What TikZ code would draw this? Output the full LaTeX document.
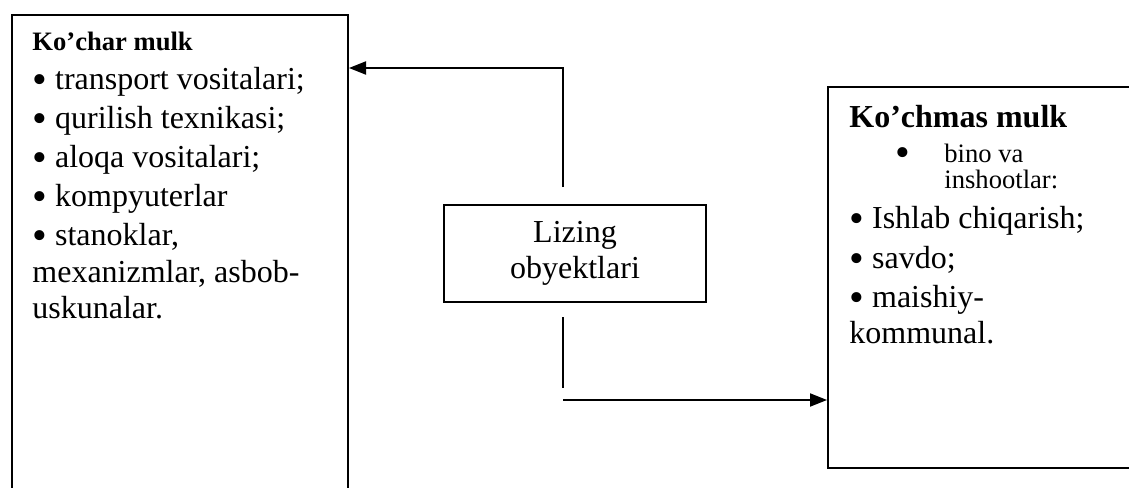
\documentclass[tikz,border=0pt]{standalone}
\usepackage{fontspec}
\setmainfont{Liberation Serif}
\usepackage{tikz}
\usetikzlibrary{arrows.meta}
\newcommand{\bul}{\raisebox{-2.4pt}{\fontsize{21}{21}\selectfont\textbullet}}
\tikzset{
	box/.style={draw,line width=1pt,inner sep=0pt,anchor=north west},
	txt/.style={anchor=base west,inner sep=0pt,font=\fontsize{16}{19}\selectfont},
	stxt/.style={anchor=base west,inner sep=0pt,font=\fontsize{13.3}{16}\selectfont},
	head/.style 2 args={anchor=base west,inner sep=0pt,font=\fontsize{#1}{#2}\selectfont\bfseries},
	arr/.style={-{Triangle[length=8.5pt,width=6.5pt]},line width=1pt}
}
\begin{document}
\begin{tikzpicture}[x=0.5pt,y=-0.5pt]
	\useasboundingbox (0,0) rectangle (1129,487);

	% boxes
	\node [box,minimum width=168pt,minimum height=250pt] (kochar) at (11,14) {};
	\node [box,minimum width=160pt,minimum height=190.5pt] (kochmas) at (827,86) {};
	\node [box,minimum width=131pt,minimum height=48.5pt,align=center,
		font=\fontsize{16}{18}\selectfont] (lizing) at (443,204) {Lizing\\obyektlari};

	% left box text
	\node [head={13.3}{16}] (kocharhead) at (32,50) {Ko’char mulk};
	\foreach \y/\t [count=\i] in {89/{\bul\ transport vositalari;},
			128/{\bul\ qurilish texnikasi;}, 167/{\bul\ aloqa vositalari;},
			206/{\bul\ kompyuterlar}, 245/{\bul\ stanoklar,},
			282/{mexanizmlar, asbob-}, 318/{uskunalar.}}
		\node [txt] (kochar\i) at (32,\y) {\t};

	% right box text
	\node [head={16}{19}] (kochmashead) at (849,127) {Ko’chmas mulk};
	\node [txt] (binodot) at (895,162) {\bul};
	\node [stxt] (bino1) at (944,162) {bino va};
	\node [stxt] (bino2) at (944,188) {inshootlar:};
	\foreach \y/\t [count=\i] in {228/{\bul\ Ishlab chiqarish;}, 268/{\bul\ savdo;},
			307/{\bul\ maishiy-}, 343/{kommunal.}}
		\node [txt] (kochmas\i) at (849,\y) {\t};

	% connectors
	\coordinate (upstart) at (563,187);
	\coordinate (upturn) at (563,68);
	\coordinate (downstart) at (563,317);
	\coordinate (downend) at (563,388);
	\coordinate (downturn) at (563,400);
	\draw [arr] (upstart) -- (upturn) -- (upturn -| kochar.east);
	\draw [line width=1pt] (downstart) -- (downend);
	\draw [arr] (downturn) -- (downturn -| kochmas.west);
\end{tikzpicture}
\end{document}
